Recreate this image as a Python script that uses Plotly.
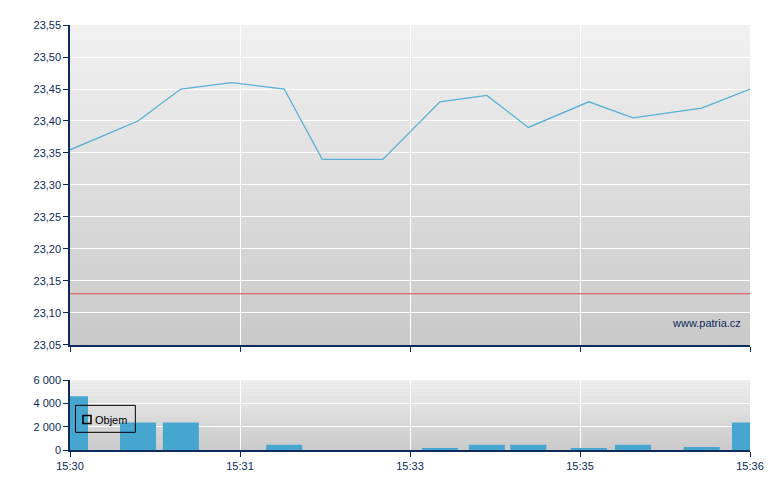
import plotly.graph_objects as go

# ---- data ----
positions = [0, 10, 16.3, 23.8, 31.5, 37.1, 46.0, 54.4, 61.3, 67.4, 76.3, 82.8, 92.9, 100]
prices = [23.355, 23.40, 23.45, 23.46, 23.45, 23.34, 23.34, 23.43, 23.44, 23.39, 23.43, 23.405, 23.42, 23.45]
volumes = [4600, 2350, 2350, 0, 450, 0, 0, 100, 450, 450, 100, 450, 250, 2350]
tick_positions = [0, 25, 50, 75, 100]
tick_labels = ["15:30", "15:31", "15:33", "15:35", "15:36"]
reference_price = 23.13
volume_name = "Objem"
watermark = "www.patria.cz"

NAVY = "#0c2a5c"
FONT = "Liberation Sans, Arial, sans-serif"

fig = go.Figure()

fig.add_trace(go.Scatter(
    x=positions, y=prices, mode="lines",
    line=dict(color="#5aafd7", width=1.3),
    xaxis="x", yaxis="y", showlegend=False, hoverinfo="skip"))

fig.add_trace(go.Bar(
    x=positions, y=volumes, width=5.3, name=volume_name,
    marker=dict(color="#46a6cf", line=dict(width=0)),
    xaxis="x2", yaxis="y2", showlegend=False, hoverinfo="skip"))

# gradient backgrounds
shapes = []
def gradient(xref, yref, top, bottom, n=40):
    for i in range(n):
        t = (i + 0.5) / n
        c = [round(bottom[k] + (top[k] - bottom[k]) * t) for k in range(3)]
        shapes.append(dict(type="rect", xref=xref, yref=yref,
                           x0=0, x1=1, y0=i / n, y1=(i + 1) / n,
                           fillcolor="rgb(%d,%d,%d)" % tuple(c),
                           line=dict(width=0), layer="below"))
gradient("x domain", "y domain", top=(241, 241, 241), bottom=(201, 201, 201))
gradient("x2 domain", "y2 domain", top=(240, 240, 240), bottom=(200, 200, 200))

# reference price line
shapes.append(dict(type="line", xref="x domain", yref="y",
                   x0=0, x1=1, y0=reference_price, y1=reference_price,
                   line=dict(color="#e04a4a", width=1), layer="above"))

# legend box in the style of the reference (transparent, black frame, hollow square)
shapes.append(dict(type="rect", xref="paper", yref="paper",
                   x0=0.0081, x1=0.0961, y0=0.0416, y1=0.1051,
                   line=dict(color="black", width=1), fillcolor="rgba(0,0,0,0)",
                   layer="above"))
shapes.append(dict(type="rect", xref="paper", yref="paper",
                   x0=0.0191, x1=0.0309, y0=0.0624, y1=0.0812,
                   line=dict(color="black", width=1.5), fillcolor="rgba(0,0,0,0)",
                   layer="above"))

axis_common = dict(showline=True, linecolor=NAVY, linewidth=1.5,
                   ticks="outside", ticklen=5, tickcolor=NAVY, tickwidth=1,
                   gridcolor="white", gridwidth=1, zeroline=False,
                   tickfont=dict(family=FONT, size=11, color=NAVY))

fig.update_layout(
    width=772, height=482,
    margin=dict(l=62, r=30, t=17, b=40, autoexpand=False),
    paper_bgcolor="white", plot_bgcolor="#dcdcdc",
    separators=", ",
    font=dict(family=FONT, size=11, color=NAVY),
    shapes=shapes,
    showlegend=False,
    xaxis=dict(domain=[0, 1], anchor="y", range=[0, 100],
               tickvals=tick_positions, ticktext=tick_labels,
               showticklabels=False, **axis_common),
    yaxis=dict(domain=[0.2471, 1], anchor="x", range=[23.05, 23.55],
               dtick=0.05, tick0=23.05, tickformat=".2f", **axis_common),
    xaxis2=dict(domain=[0, 1], anchor="y2", range=[0, 100],
                tickvals=tick_positions, ticktext=tick_labels, **axis_common),
    yaxis2=dict(domain=[0, 0.1647], anchor="x2", range=[0, 6000],
                dtick=2000, tickformat=",d", **axis_common),
    annotations=[
        dict(text=watermark, xref="x domain", yref="y domain",
             x=0.99, y=0.07, xanchor="right", yanchor="middle",
             showarrow=False, font=dict(family=FONT, size=11, color=NAVY)),
        dict(text=volume_name, xref="paper", yref="paper",
             x=0.0338, y=0.0706, xanchor="left", yanchor="middle",
             showarrow=False, font=dict(family=FONT, size=11, color="black")),
    ],
)

fig.write_html("out.html")
